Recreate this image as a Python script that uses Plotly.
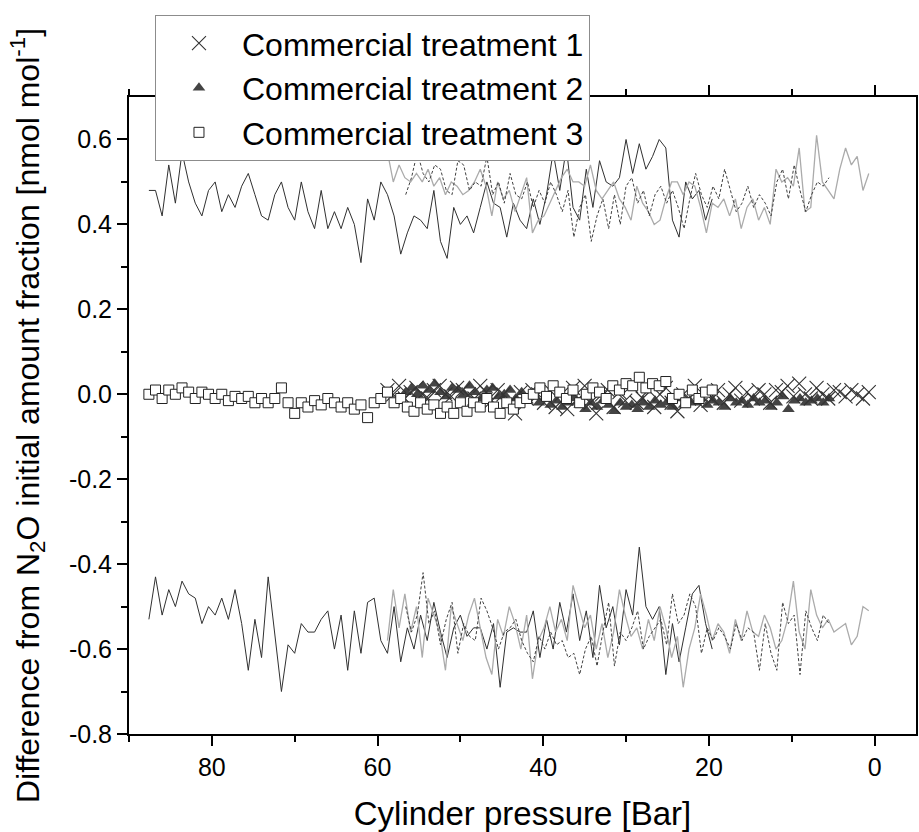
import plotly.graph_objects as go

# ---------------- data ----------------
# Commercial treatment 3 (open squares, dark solid bound lines)
t3_x = [87.6, 86.8, 86.0, 85.2, 84.4, 83.6, 82.8, 82.0, 81.2, 80.4,
        79.6, 78.8, 78.0, 77.2, 76.4, 75.6, 74.8, 74.0, 73.2, 72.4,
        71.6, 70.8, 70.0, 69.2, 68.4, 67.6, 66.8, 66.0, 65.2, 64.4,
        63.6, 62.8, 62.0, 61.2, 60.4, 59.6, 58.8, 58.0, 57.2, 56.4,
        55.6, 54.8, 54.0, 53.2, 52.4, 51.6, 50.8, 50.0, 49.2, 48.4,
        47.6, 46.8, 46.0, 45.2, 44.4, 43.6, 42.8, 42.0, 41.2, 40.4,
        39.6, 38.8, 38.0, 37.2, 36.4, 35.6, 34.8, 34.0, 33.2, 32.4,
        31.6, 30.8, 30.0, 29.2, 28.4, 27.6, 26.8, 26.0, 25.2, 24.4,
        23.6, 22.8, 22.0, 21.2, 20.4, 19.6]
t3_mid = [0.00, 0.01, -0.01, 0.01, 0.00, 0.015, 0.005, -0.01, 0.005, 0.00,
          -0.01, 0.00, -0.015, -0.005, -0.01, -0.005, -0.02, -0.01, -0.02, -0.01,
          0.015, -0.02, -0.045, -0.02, -0.03, -0.015, -0.025, -0.01, -0.02, -0.03,
          -0.02, -0.035, -0.025, -0.055, -0.02, -0.01, 0.005, -0.02, -0.01, -0.03,
          -0.04, -0.02, -0.035, -0.025, -0.045, -0.03, -0.045, -0.02, -0.04, -0.02,
          -0.03, -0.01, -0.03, -0.045, -0.02, -0.035, -0.02, -0.01, 0.00, 0.015,
          -0.005, 0.02, 0.005, -0.01, 0.01, -0.02, 0.00, 0.015, 0.005, -0.01,
          0.02, 0.01, 0.025, 0.02, 0.04, 0.015, 0.025, 0.02, 0.03, -0.01,
          0.00, -0.02, 0.01, -0.01, 0.005, 0.01]
t3_up = [0.48, 0.48, 0.42, 0.54, 0.45, 0.57, 0.50, 0.45, 0.42, 0.48,
         0.50, 0.43, 0.47, 0.44, 0.49, 0.52, 0.47, 0.42, 0.41, 0.47,
         0.50, 0.44, 0.41, 0.50, 0.43, 0.39, 0.48, 0.39, 0.43, 0.39,
         0.44, 0.40, 0.31, 0.46, 0.41, 0.50, 0.47, 0.42, 0.33, 0.38,
         0.42, 0.41, 0.39, 0.48, 0.36, 0.32, 0.44, 0.40, 0.42, 0.38,
         0.44, 0.50, 0.45, 0.44, 0.37, 0.45, 0.41, 0.39, 0.46, 0.40,
         0.47, 0.57, 0.48, 0.58, 0.44, 0.41, 0.53, 0.44, 0.55, 0.50,
         0.49, 0.51, 0.60, 0.52, 0.59, 0.53, 0.56, 0.60, 0.58, 0.41,
         0.37, 0.50, 0.46, 0.48, 0.41, 0.46]
t3_lo = [-0.53, -0.43, -0.52, -0.46, -0.50, -0.44, -0.47, -0.48, -0.54, -0.50,
         -0.52, -0.48, -0.53, -0.46, -0.54, -0.65, -0.53, -0.62, -0.43, -0.56,
         -0.70, -0.59, -0.61, -0.54, -0.56, -0.56, -0.53, -0.51, -0.60, -0.52,
         -0.65, -0.51, -0.61, -0.49, -0.48, -0.58, -0.61, -0.50, -0.63, -0.55,
         -0.60, -0.52, -0.58, -0.49, -0.56, -0.62, -0.55, -0.52, -0.57, -0.55,
         -0.55, -0.60, -0.54, -0.69, -0.56, -0.55, -0.56, -0.56, -0.51, -0.62,
         -0.53, -0.60, -0.49, -0.56, -0.47, -0.58, -0.51, -0.62, -0.45, -0.55,
         -0.50, -0.59, -0.46, -0.52, -0.36, -0.50, -0.53, -0.50, -0.66, -0.54,
         -0.63, -0.55, -0.47, -0.45, -0.54, -0.60]

# Commercial treatment 1 (x markers, light grey bound lines)
t1_x = [58.8, 58.1, 57.4, 56.7, 56.0, 55.3, 54.6, 53.9, 53.2, 52.5,
        51.8, 51.1, 50.4, 49.7, 49.0, 48.3, 47.6, 46.9, 46.2, 45.5,
        44.8, 44.1, 43.4, 42.7, 42.0, 41.3, 40.6, 39.9, 39.2, 38.5,
        37.8, 37.1, 36.4, 35.7, 35.0, 34.3, 33.6, 32.9, 32.2, 31.5,
        30.8, 30.1, 29.4, 28.7, 28.0, 27.3, 26.6, 25.9, 25.2, 24.5,
        23.8, 23.1, 22.4, 21.7, 21.0, 20.3, 19.6, 18.9, 18.2, 17.5,
        16.8, 16.1, 15.4, 14.7, 14.0, 13.3, 12.6, 11.9, 11.2, 10.5,
        9.8, 9.1, 8.4, 7.7, 7.0, 6.3, 5.6, 4.9, 4.2, 3.5,
        2.8, 2.1, 1.4, 0.7]
t1_mid = [0.01, 0.0, 0.02, -0.01, 0.005, 0.015, 0.0, -0.01, 0.01, 0.02,
          0.0, -0.005, 0.015, 0.01, 0.0, -0.01, 0.02, 0.005, -0.015, 0.01,
          0.0, -0.02, -0.045, 0.005, -0.01, 0.01, 0.0, -0.02, 0.01, -0.03,
          0.0, -0.035, 0.015, -0.01, 0.02, -0.02, -0.045, 0.0, 0.01, -0.03,
          0.005, -0.015, 0.02, -0.02, -0.01, 0.01, -0.03, 0.0, 0.015, -0.02,
          -0.04, 0.0, -0.01, 0.02, -0.025, 0.0, -0.01, 0.01, -0.02, 0.0,
          0.015, -0.015, 0.005, -0.01, 0.01, 0.0, -0.02, 0.01, 0.005, 0.02,
          -0.005, 0.025, 0.0, -0.01, 0.015, 0.0, -0.01, 0.01, 0.005, -0.005,
          0.01, 0.0, -0.01, 0.005]
t1_up = [0.57, 0.50, 0.54, 0.51, 0.50, 0.52, 0.50, 0.53, 0.49, 0.51,
         0.47, 0.50, 0.49, 0.47, 0.48, 0.50, 0.53, 0.49, 0.42, 0.50,
         0.46, 0.48, 0.43, 0.47, 0.51, 0.38, 0.41, 0.42, 0.45, 0.48,
         0.51, 0.53, 0.50, 0.50, 0.49, 0.54, 0.48, 0.46, 0.48, 0.50,
         0.46, 0.44, 0.41, 0.49, 0.45, 0.43, 0.40, 0.41, 0.46, 0.50,
         0.50, 0.47, 0.50, 0.49, 0.44, 0.38, 0.45, 0.44, 0.46, 0.42,
         0.46, 0.39, 0.44, 0.46, 0.41, 0.44, 0.40, 0.53, 0.50, 0.51,
         0.49, 0.58, 0.43, 0.44, 0.61, 0.50, 0.48, 0.46, 0.53, 0.58,
         0.54, 0.56, 0.48, 0.52]
t1_lo = [-0.58, -0.46, -0.55, -0.47, -0.56, -0.50, -0.62, -0.48, -0.52, -0.56,
         -0.65, -0.50, -0.54, -0.58, -0.52, -0.48, -0.55, -0.62, -0.66, -0.53,
         -0.57, -0.50, -0.54, -0.60, -0.52, -0.67, -0.58, -0.55, -0.50, -0.56,
         -0.53, -0.58, -0.45, -0.50, -0.55, -0.52, -0.60, -0.54, -0.62, -0.56,
         -0.46, -0.52, -0.57, -0.55, -0.60, -0.53, -0.58, -0.50, -0.55, -0.62,
         -0.57, -0.69, -0.60, -0.55, -0.47, -0.52, -0.58, -0.54, -0.56, -0.61,
         -0.53, -0.58, -0.51, -0.56, -0.57, -0.52, -0.55, -0.60, -0.58, -0.53,
         -0.44, -0.56, -0.60, -0.46, -0.52, -0.55, -0.53, -0.56, -0.55, -0.54,
         -0.59, -0.57, -0.50, -0.51]

# Commercial treatment 2 (filled triangles, dashed bound lines)
t2_x = [56.6, 55.9, 55.2, 54.5, 53.8, 53.1, 52.4, 51.7, 51.0, 50.3,
        49.6, 48.9, 48.2, 47.5, 46.8, 46.1, 45.4, 44.7, 44.0, 43.3,
        42.6, 41.9, 41.2, 40.5, 39.8, 39.1, 38.4, 37.7, 37.0, 36.3,
        35.6, 34.9, 34.2, 33.5, 32.8, 32.1, 31.4, 30.7, 30.0, 29.3,
        28.6, 27.9, 27.2, 26.5, 25.8, 25.1, 24.4, 23.7, 23.0, 22.3,
        21.6, 20.9, 20.2, 19.5, 18.8, 18.1, 17.4, 16.7, 16.0, 15.3,
        14.6, 13.9, 13.2, 12.5, 11.8, 11.1, 10.4, 9.7, 9.0, 8.3,
        7.6, 6.9, 6.2, 5.5]
t2_mid = [0.005, 0.015, 0.0, 0.02, 0.01, 0.025, 0.005, -0.005, 0.015, 0.01,
          0.0, 0.02, 0.005, -0.01, 0.01, 0.015, -0.005, 0.0, 0.01, -0.01,
          0.005, -0.015, 0.0, -0.02, -0.01, -0.025, -0.015, -0.03, -0.02, -0.01,
          -0.025, -0.035, -0.02, -0.03, -0.015, -0.025, -0.04, -0.02, -0.03, -0.025,
          -0.035, -0.02, -0.03, -0.015, -0.025, -0.02, -0.03, -0.01, -0.025, -0.015,
          -0.02, -0.01, -0.025, -0.015, -0.02, -0.03, -0.01, -0.02, -0.015, -0.025,
          -0.01, -0.02, -0.015, -0.03, -0.02, -0.005, -0.035, -0.015, -0.01, -0.02,
          -0.015, -0.01, -0.02, -0.01]
t2_up = [0.47, 0.51, 0.57, 0.52, 0.50, 0.54, 0.53, 0.48, 0.47, 0.55,
         0.54, 0.48, 0.50, 0.49, 0.56, 0.47, 0.50, 0.45, 0.52, 0.47,
         0.46, 0.50, 0.44, 0.48, 0.45, 0.50, 0.47, 0.43, 0.48, 0.37,
         0.44, 0.47, 0.36, 0.42, 0.46, 0.39, 0.47, 0.40, 0.49, 0.51,
         0.45, 0.48, 0.42, 0.47, 0.49, 0.45, 0.48, 0.44, 0.39, 0.46,
         0.52, 0.47, 0.44, 0.49, 0.46, 0.53, 0.48, 0.43, 0.45, 0.49,
         0.44, 0.47, 0.45, 0.42, 0.50, 0.53, 0.46, 0.54, 0.48, 0.43,
         0.47, 0.50, 0.49, 0.51]
t2_lo = [-0.50, -0.56, -0.52, -0.42, -0.54, -0.51, -0.59, -0.53, -0.49, -0.61,
         -0.54, -0.57, -0.58, -0.48, -0.51, -0.55, -0.60, -0.56, -0.55, -0.53,
         -0.58, -0.61, -0.63, -0.57, -0.60, -0.56, -0.59, -0.58, -0.62, -0.61,
         -0.66, -0.60, -0.57, -0.64, -0.56, -0.49, -0.64, -0.56, -0.58, -0.55,
         -0.51, -0.60, -0.57, -0.55, -0.53, -0.59, -0.47, -0.54, -0.52, -0.47,
         -0.50, -0.61, -0.55, -0.58, -0.55, -0.57, -0.60, -0.54, -0.58, -0.55,
         -0.56, -0.65, -0.54, -0.61, -0.65, -0.49, -0.54, -0.52, -0.66, -0.51,
         -0.55, -0.58, -0.52, -0.54]

legend_names = ["Commercial treatment 1", "Commercial treatment 2", "Commercial treatment 3"]
y_tickvals = [-0.8, -0.6, -0.4, -0.2, 0.0, 0.2, 0.4, 0.6]
y_ticktext = ["-0.8", "-0.6", "-0.4", "-0.2", "0.0", "0.2", "0.4", "0.6"]
x_tickvals = [0, 20, 40, 60, 80]
x_ticktext = ["0", "20", "40", "60", "80"]

FONT = "Liberation Sans, Arial, sans-serif"

fig = go.Figure()

# bound lines
line_styles = [
    (t3_x, t3_up, t3_lo, dict(color="#303030", width=1)),
    (t1_x, t1_up, t1_lo, dict(color="#ababab", width=1.3)),
    (t2_x, t2_up, t2_lo, dict(color="#404040", width=1, dash="3px,2px")),
]
for xs, up, lo, ls in line_styles:
    for ys in (up, lo):
        fig.add_trace(go.Scatter(x=xs, y=ys, mode="lines", line=ls,
                                 showlegend=False, hoverinfo="skip"))

# markers
fig.add_trace(go.Scatter(
    x=t2_x, y=t2_mid, mode="markers", name=legend_names[1], legendrank=2,
    marker=dict(symbol="triangle-up", size=11, color="#444444",
                line=dict(width=0))))
fig.add_trace(go.Scatter(
    x=t1_x, y=t1_mid, mode="markers", name=legend_names[0], legendrank=1,
    marker=dict(symbol="x-thin-open", size=14, color="#333333",
                line=dict(width=1.1, color="#333333"))))
fig.add_trace(go.Scatter(
    x=t3_x, y=t3_mid, mode="markers", name=legend_names[2], legendrank=3,
    marker=dict(symbol="square", size=10, color="white",
                line=dict(width=1, color="#222222"))))

fig.update_layout(
    width=919, height=832,
    margin=dict(l=129, r=1, t=97, b=98),
    paper_bgcolor="white", plot_bgcolor="white",
    font=dict(family=FONT, color="black", size=25),
    showlegend=True,
    legend=dict(x=0.033, y=1.129, xanchor="left", yanchor="top",
                bgcolor="white", bordercolor="#8c8c8c", borderwidth=1,
                font=dict(family=FONT, size=32, color="black"),
                itemwidth=76, tracegroupgap=0),
)
fig.update_xaxes(
    range=[90, -5], tickvals=x_tickvals, ticktext=x_ticktext,
    ticks="outside", ticklen=10, tickwidth=1.5, tickcolor="black",
    minor=dict(tickvals=[10, 30, 50, 70, 90], ticks="outside", ticklen=6,
               tickwidth=1.5, tickcolor="black"),
    showline=True, linecolor="black", linewidth=2, mirror="ticks",
    showgrid=False, zeroline=False,
    tickfont=dict(size=25, family=FONT),
    title=dict(text="Cylinder pressure [Bar]", font=dict(size=33, family=FONT),
               standoff=26),
)
fig.update_yaxes(
    range=[-0.8, 0.7], tickvals=y_tickvals, ticktext=y_ticktext,
    ticks="outside", ticklen=10, tickwidth=1.5, tickcolor="black",
    minor=dict(tickvals=[-0.7, -0.5, -0.3, -0.1, 0.1, 0.3, 0.5], ticks="outside",
               ticklen=6, tickwidth=1.5, tickcolor="black"),
    showline=True, linecolor="black", linewidth=2, mirror=True,
    showgrid=False, zeroline=False,
    tickfont=dict(size=25, family=FONT),
    title=dict(text="Difference from N<sub>2</sub>O initial amount fraction [nmol mol<sup>-1</sup>]",
               font=dict(size=32, family=FONT), standoff=20),
)

fig.write_html("out.html")
